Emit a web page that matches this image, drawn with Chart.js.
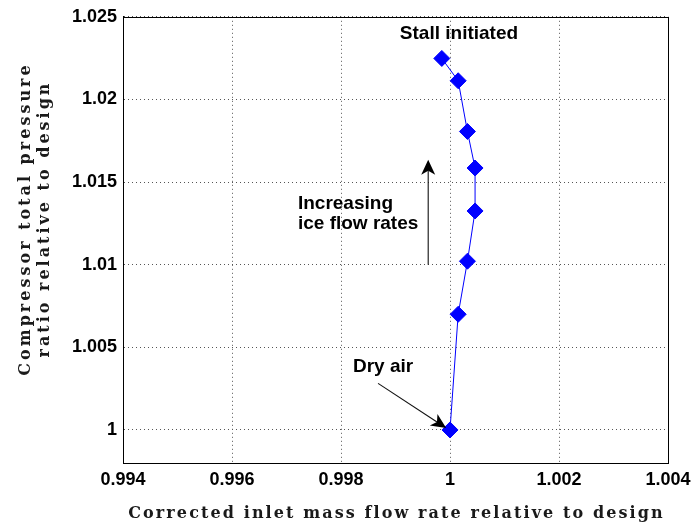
<!DOCTYPE html>
<html>
<head>
<meta charset="utf-8">
<script src="https://cdn.jsdelivr.net/npm/chart.js@4/dist/chart.umd.min.js"></script>
<style>
  html, body { margin: 0; padding: 0; background: #fff; }
  canvas { display: block; }
</style>
</head>
<body>
<canvas id="c" width="698" height="527"></canvas>
<script>
// Operating points, from dry air up to the onset of stall
const massFlow      = [1.00000, 1.00015, 1.00032, 1.00046, 1.00046, 1.00032, 1.00015, 0.99985];
const pressureRatio = [1.00000, 1.00700, 1.01021, 1.01325, 1.01585, 1.01806, 1.02113, 1.02248];

const xTicks = [0.994, 0.996, 0.998, 1.000, 1.002, 1.004];
const yTicks = [1.000, 1.005, 1.010, 1.015, 1.020, 1.025];
const xRange = [0.994, 1.004];
const yRange = [0.998, 1.025];

const xTitle = 'Corrected inlet mass flow rate relative to design';
const yTitleLines = ['Compressor total pressure', 'ratio relative to design'];

// Text notes: left edge / first baseline in data units
const noteLines = [['Stall initiated'], ['Increasing', 'ice flow rates'], ['Dry air']];
const noteX = [0.99908, 0.99721, 0.99822];
const noteY = [1.02368, 1.01334, 1.00349];

// Arrows: tail and tip in data units
const arrowTail = [[0.99960, 1.01000], [0.99868, 1.00282]];
const arrowTip  = [[0.99960, 1.01635], [0.99993, 1.00012]];

const LABEL_FONT = '"Liberation Sans", Arial, Helvetica, sans-serif';
const TITLE_FONT = '"DejaVu Serif", "Liberation Serif", serif';

function fmtTick(v) {
  return String(Number(v.toFixed(3)));
}

function drawArrow(ctx, x1, y1, x2, y2) {
  const dx = x2 - x1, dy = y2 - y1;
  const len = Math.hypot(dx, dy);
  const ux = dx / len, uy = dy / len;
  const nx = -uy, ny = ux;
  const L = 15, W = 7, notch = 4;
  ctx.save();
  ctx.strokeStyle = '#111';
  ctx.lineWidth = 1.1;
  ctx.beginPath();
  ctx.moveTo(x1, y1);
  ctx.lineTo(x2 - ux * (L - notch), y2 - uy * (L - notch));
  ctx.stroke();
  ctx.fillStyle = '#000';
  ctx.beginPath();
  ctx.moveTo(x2, y2);
  ctx.lineTo(x2 - ux * L + nx * W, y2 - uy * L + ny * W);
  ctx.lineTo(x2 - ux * (L - notch), y2 - uy * (L - notch));
  ctx.lineTo(x2 - ux * L - nx * W, y2 - uy * L - ny * W);
  ctx.closePath();
  ctx.fill();
  ctx.restore();
}

const framePlugin = {
  id: 'frameAndNotes',
  afterDraw(chart) {
    const { ctx, chartArea: a, scales: { x, y } } = chart;
    ctx.save();
    // axes box
    ctx.strokeStyle = '#000';
    ctx.lineWidth = 1;
    ctx.strokeRect(Math.round(a.left) + 0.5, Math.round(a.top) + 0.5,
                   Math.round(a.right - a.left), Math.round(a.bottom - a.top));

    // notes
    ctx.fillStyle = '#000';
    ctx.font = 'bold 19px ' + LABEL_FONT;
    ctx.textAlign = 'left';
    ctx.textBaseline = 'alphabetic';
    noteLines.forEach((lines, i) => {
      const px = x.getPixelForValue(noteX[i]);
      const py = y.getPixelForValue(noteY[i]);
      lines.forEach((t, j) => ctx.fillText(t, px, py + j * 20));
    });

    // arrows
    arrowTail.forEach((t, i) => {
      drawArrow(ctx,
        x.getPixelForValue(t[0]), y.getPixelForValue(t[1]),
        x.getPixelForValue(arrowTip[i][0]), y.getPixelForValue(arrowTip[i][1]));
    });

    // axis titles
    ctx.fillStyle = '#1a1a1a';
    ctx.font = 'bold 16px ' + TITLE_FONT;
    ctx.letterSpacing = '2.1px';
    ctx.textAlign = 'center';
    ctx.textBaseline = 'alphabetic';
    ctx.fillText(xTitle, (a.left + a.right) / 2 + 1, 518);

    ctx.letterSpacing = '3px';
    const yc = 219;
    const lineX = [30, 49];
    yTitleLines.forEach((t, i) => {
      ctx.save();
      ctx.translate(lineX[i], yc);
      ctx.rotate(-Math.PI / 2);
      ctx.fillText(t, 0, 0);
      ctx.restore();
    });
    ctx.letterSpacing = '0px';
    ctx.restore();
  }
};

new Chart(document.getElementById('c'), {
  type: 'scatter',
  data: {
    datasets: [{
      data: massFlow.map((m, i) => ({ x: m, y: pressureRatio[i] })),
      showLine: true,
      borderColor: '#0000ff',
      borderWidth: 1,
      backgroundColor: '#0000ff',
      pointStyle: 'rectRot',
      pointRadius: 8,
      pointHoverRadius: 8,
      pointBorderWidth: 1,
      pointBorderColor: '#0000ff',
      pointBackgroundColor: '#0000ff',
      tension: 0
    }]
  },
  options: {
    responsive: false,
    animation: false,
    devicePixelRatio: 1,
    layout: { padding: { top: 14, right: 30, left: 0, bottom: 0 } },
    plugins: { legend: { display: false }, tooltip: { enabled: false } },
    scales: {
      x: {
        type: 'linear',
        min: xRange[0], max: xRange[1],
        afterBuildTicks: s => { s.ticks = xTicks.map(v => ({ value: v })); },
        afterFit: s => { s.height = 64; },
        grid: { color: '#555', lineWidth: 1, drawTicks: false },
        border: { display: true, color: '#000', dash: [1, 3] },
        ticks: {
          padding: 6,
          color: '#000',
          maxRotation: 0,
          autoSkip: false,
          font: { family: LABEL_FONT, weight: 'bold', size: 18 },
          callback: v => fmtTick(v)
        }
      },
      y: {
        type: 'linear',
        min: yRange[0], max: yRange[1],
        afterBuildTicks: s => { s.ticks = yTicks.map(v => ({ value: v })); },
        afterFit: s => { s.width = 123; },
        grid: { color: '#555', lineWidth: 1, drawTicks: false },
        border: { display: true, color: '#000', dash: [1, 3] },
        ticks: {
          padding: 6,
          color: '#000',
          autoSkip: false,
          font: { family: LABEL_FONT, weight: 'bold', size: 18 },
          callback: v => fmtTick(v)
        }
      }
    }
  },
  plugins: [framePlugin]
});
</script>
</body>
</html>
